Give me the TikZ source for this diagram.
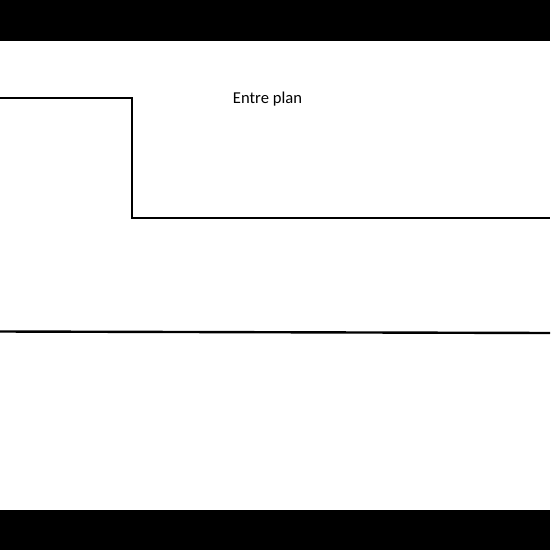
\documentclass[tikz,border=0pt]{standalone}
\usepackage{fontspec}
\setmainfont{Carlito}
\begin{document}
\begin{tikzpicture}[x=1pt,y=-1pt,
  wall/.style={line width=2.4pt,black},
  bar/.style={fill=black,draw=none},
  lbl/.style={font=\fontsize{16.6}{18}\selectfont,inner sep=0pt}]
\useasboundingbox (0,0) rectangle (550,550);
\fill[white] (0,0) rectangle (550,550);
\fill[bar] (0,0) rectangle (550,40.5);
\fill[bar] (0,509.5) rectangle (550,550);
\coordinate (a1) at (0,98);
\coordinate (a2) at (132,98);
\coordinate (a3) at (132,218);
\coordinate (a4) at (550,218);
\draw[wall] (a1) -- (a2) -- (a3) -- (a4);
\coordinate (b1) at (0,331.5);
\coordinate (b2) at (550,333);
\draw[wall] (b1) -- (b2);
\node[lbl] (t) at (267.5,99) {Entre plan};
\end{tikzpicture}
\end{document}
